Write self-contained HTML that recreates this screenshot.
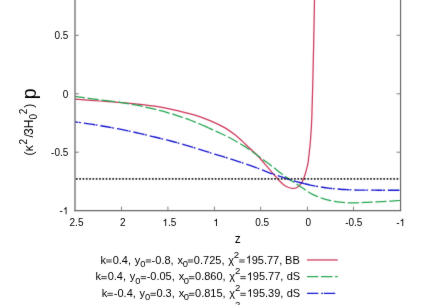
<!DOCTYPE html>
<html>
<head>
<meta charset="utf-8">
<title>plot</title>
<style>
html,body{margin:0;padding:0;background:#fff;}
body{width:436px;height:305px;overflow:hidden;}
svg{display:block;}
text{font-family:"Liberation Sans",sans-serif;fill:#000;}
.tk{font-size:10px;}
.lg{font-size:11px;}
.eq{stroke:#222;stroke-width:0.9;fill:none;}
</style>
</head>
<body>
<svg width="436" height="305" viewBox="0 0 436 305">
<rect x="0" y="0" width="436" height="305" fill="#ffffff"/>
<defs>
<filter id="bl" x="-5%" y="-5%" width="110%" height="110%" color-interpolation-filters="sRGB"><feConvolveMatrix order="3" kernelMatrix="0.015 0.07 0.015 0.07 0.66 0.07 0.015 0.07 0.015" divisor="1" edgeMode="duplicate" preserveAlpha="false"/></filter>
<filter id="bt" x="-5%" y="-5%" width="110%" height="110%" color-interpolation-filters="sRGB"><feConvolveMatrix order="3" kernelMatrix="0.01 0.04 0.01 0.04 0.8 0.04 0.01 0.04 0.01" divisor="1" edgeMode="duplicate" preserveAlpha="false"/></filter>
<path id="one" d="M763 0H583V1147Q518 1085 412.5 1023Q307 961 223 930V1104Q374 1175 487 1276Q600 1377 647 1472H763Z"/>
<clipPath id="pc"><rect x="75" y="-10" width="325.5" height="220.5"/></clipPath>
</defs>

<g filter="url(#bl)">
<!-- curves -->
<g clip-path="url(#pc)" fill="none">
<path d="M75.00 99.20 C79.17 99.50 91.67 100.40 100.00 101.00 C108.33 101.60 115.83 101.93 125.00 102.80 C134.17 103.67 145.83 104.78 155.00 106.20 C164.17 107.62 173.33 109.80 180.00 111.30 C186.67 112.80 190.00 113.63 195.00 115.20 C200.00 116.77 205.00 118.58 210.00 120.70 C215.00 122.82 220.83 125.55 225.00 127.90 C229.17 130.25 232.17 132.63 235.00 134.80 C237.83 136.97 239.63 138.73 242.00 140.90 C244.37 143.07 246.47 145.20 249.20 147.80 C251.93 150.40 255.35 153.28 258.40 156.50 C261.45 159.72 265.23 164.47 267.50 167.10 C269.77 169.73 270.75 170.85 272.00 172.30 C273.25 173.75 273.73 174.34 275.00 175.80 C276.27 177.26 278.07 179.48 279.60 181.05 C281.13 182.62 282.67 184.12 284.20 185.20 C285.73 186.27 287.27 186.97 288.80 187.50 C290.33 188.03 291.98 188.40 293.35 188.40 C294.72 188.40 295.93 188.03 297.00 187.50 C298.07 186.97 298.95 186.12 299.80 185.20 C300.65 184.28 301.42 183.22 302.10 182.00 C302.78 180.78 303.37 179.23 303.90 177.85 C304.43 176.47 304.84 175.22 305.30 173.70 C305.76 172.17 306.27 170.15 306.65 168.70 C307.03 167.25 307.31 166.45 307.60 165.00 C307.89 163.55 307.90 164.33 308.40 160.00 C308.90 155.67 310.03 146.00 310.60 139.00 C311.17 132.00 311.43 127.50 311.80 118.00 C312.17 108.50 312.48 94.67 312.80 82.00 C313.12 69.33 313.42 55.67 313.70 42.00 C313.98 28.33 314.35 8.00 314.50 0.00 C314.65 -8.00 314.58 -5.00 314.60 -6.00" stroke="#cc3558" stroke-width="1.25"/>
<path d="M400.40 200.50 C399.40 200.56 396.40 200.74 394.40 200.86 C392.40 200.97 390.40 201.09 388.40 201.20 C386.40 201.31 384.40 201.42 382.40 201.52 C380.40 201.63 378.40 201.73 376.40 201.83 C374.40 201.93 372.40 202.03 370.40 202.13 C368.40 202.22 366.40 202.32 364.40 202.41 C362.40 202.50 360.40 202.59 358.40 202.68 C356.40 202.76 354.40 202.90 352.40 202.90 C350.40 202.90 348.40 202.80 346.40 202.68 C344.40 202.57 342.40 202.42 340.40 202.19 C338.40 201.96 336.40 201.65 334.40 201.31 C332.40 200.98 330.40 200.64 328.40 200.15 C326.40 199.67 324.40 199.06 322.40 198.38 C320.40 197.71 318.40 196.95 316.40 196.08 C314.40 195.22 312.40 194.32 310.40 193.18 C308.40 192.03 306.40 190.55 304.40 189.22 C302.40 187.90 300.40 186.55 298.40 185.25 C296.40 183.94 294.40 182.69 292.40 181.37 C290.40 180.06 288.40 178.79 286.40 177.37 C284.40 175.94 282.40 174.40 280.40 172.84 C278.40 171.29 276.40 169.59 274.40 168.04 C272.40 166.49 270.40 165.06 268.40 163.57 C266.40 162.08 264.40 160.59 262.40 159.10 C260.40 157.61 258.40 156.13 256.40 154.65 C254.40 153.17 252.40 151.60 250.40 150.22 C248.40 148.84 246.40 147.63 244.40 146.37 C242.40 145.11 240.40 143.89 238.40 142.69 C236.40 141.49 234.40 140.27 232.40 139.18 C230.40 138.10 228.40 137.17 226.40 136.18 C224.40 135.20 222.40 134.24 220.40 133.29 C218.40 132.34 216.37 131.40 214.40 130.50 C212.43 129.59 209.57 128.31 208.60 127.87" stroke="#24a650" stroke-width="1.25" stroke-dasharray="11.15 2.72"/>
<path d="M208.60 127.87 C207.60 127.42 204.60 126.07 202.60 125.20 C200.60 124.33 198.60 123.46 196.60 122.64 C194.60 121.83 192.60 121.05 190.60 120.28 C188.60 119.52 186.60 118.77 184.60 118.07 C182.60 117.36 180.60 116.70 178.60 116.05 C176.60 115.39 174.60 114.77 172.60 114.16 C170.60 113.55 168.60 112.95 166.60 112.38 C164.60 111.80 162.60 111.25 160.60 110.72 C158.60 110.19 156.60 109.69 154.60 109.20 C152.60 108.71 150.60 108.25 148.60 107.78 C146.60 107.32 144.60 106.87 142.60 106.44 C140.60 106.00 138.60 105.58 136.60 105.18 C134.60 104.78 132.60 104.40 130.60 104.04 C128.60 103.69 126.60 103.35 124.60 103.04 C122.60 102.73 120.60 102.45 118.60 102.19 C116.60 101.92 113.63 101.57 112.60 101.44 C111.57 101.31 112.43 101.42 112.40 101.42" stroke="#24a650" stroke-width="1.25" stroke-dasharray="11.15 2.72"/>
<path d="M112.40 101.42 C111.40 101.30 108.40 100.95 106.40 100.70 C104.40 100.46 102.40 100.21 100.40 99.95 C98.40 99.69 96.40 99.42 94.40 99.14 C92.40 98.87 90.40 98.59 88.40 98.31 C86.40 98.03 84.40 97.75 82.40 97.47 C80.40 97.18 77.63 96.78 76.40 96.60 C75.17 96.43 75.23 96.43 75.00 96.40" stroke="#24a650" stroke-width="1.25" stroke-dasharray="11.15 2.72"/>
<path d="M400.40 190.20 C399.40 190.20 396.40 190.20 394.40 190.20 C392.40 190.20 390.40 190.20 388.40 190.20 C386.40 190.20 384.40 190.20 382.40 190.20 C380.40 190.20 378.40 190.20 376.40 190.20 C374.40 190.19 372.40 190.18 370.40 190.18 C368.40 190.17 366.40 190.15 364.40 190.14 C362.40 190.12 360.40 190.12 358.40 190.08 C356.40 190.03 354.40 189.96 352.40 189.88 C350.40 189.79 348.40 189.69 346.40 189.57 C344.40 189.46 342.40 189.36 340.40 189.22 C338.40 189.07 336.40 188.91 334.40 188.73 C332.40 188.55 330.40 188.36 328.40 188.12 C326.40 187.88 324.40 187.59 322.40 187.28 C320.40 186.97 318.40 186.62 316.40 186.25 C314.40 185.89 312.35 185.48 310.40 185.06 C308.45 184.64 305.65 183.96 304.70 183.73" stroke="#1414ce" stroke-width="1.35" stroke-dasharray="11.3 3.0 1.8 0.68" stroke-dashoffset="-1.2"/>
<path d="M304.70 183.73 C303.70 183.49 300.70 182.78 298.70 182.26 C296.70 181.73 294.70 181.21 292.70 180.61 C290.70 180.01 288.70 179.30 286.70 178.64 C284.70 177.98 282.70 177.31 280.70 176.64 C278.70 175.97 276.70 175.32 274.70 174.64 C272.70 173.95 270.70 173.26 268.70 172.53 C266.70 171.79 264.70 171.00 262.70 170.23 C260.70 169.45 258.70 168.64 256.70 167.88 C254.70 167.13 252.70 166.40 250.70 165.68 C248.70 164.97 246.70 164.28 244.70 163.59 C242.70 162.91 240.70 162.23 238.70 161.57 C236.70 160.91 234.70 160.26 232.70 159.62 C230.70 158.99 228.70 158.37 226.70 157.76 C224.70 157.14 222.70 156.55 220.70 155.94 C218.70 155.33 216.70 154.73 214.70 154.11 C212.70 153.49 210.70 152.85 208.70 152.23 C206.70 151.60 204.70 150.96 202.70 150.34 C200.70 149.71 198.70 149.10 196.70 148.48 C194.70 147.87 192.70 147.24 190.70 146.64 C188.70 146.04 186.70 145.44 184.70 144.86 C182.70 144.28 180.70 143.71 178.70 143.16 C176.70 142.60 174.70 142.05 172.70 141.51 C170.70 140.98 168.70 140.46 166.70 139.96 C164.70 139.45 162.70 138.97 160.70 138.48 C158.70 137.99 156.70 137.51 154.70 137.03 C152.70 136.54 150.70 136.04 148.70 135.56 C146.70 135.07 144.70 134.58 142.70 134.12 C140.70 133.65 138.70 133.21 136.70 132.76 C134.70 132.32 132.70 131.87 130.70 131.44 C128.70 131.01 126.70 130.58 124.70 130.16 C122.70 129.75 120.70 129.34 118.70 128.95 C116.70 128.56 114.70 128.18 112.70 127.82 C110.70 127.45 108.70 127.10 106.70 126.75 C104.70 126.40 102.70 126.06 100.70 125.73 C98.70 125.39 96.70 125.06 94.70 124.74 C92.70 124.43 90.70 124.11 88.70 123.81 C86.70 123.51 84.70 123.22 82.70 122.94 C80.70 122.65 77.98 122.29 76.70 122.12 C75.42 121.95 75.28 121.94 75.00 121.90" stroke="#1414ce" stroke-width="1.35" stroke-dasharray="11.3 3.0 1.8 0.68"/>
<path d="M75.95 178.95 H400.5" stroke="#1e1e1e" stroke-width="1.7" stroke-dasharray="1.7 1.605"/>
</g>

<!-- axes -->
<g fill="none" stroke-linecap="square">
<path d="M75 -2 V210.55" stroke="#6a6a6a" stroke-width="1.3"/>
<path d="M75 210.6 H400.5" stroke="#666666" stroke-width="1.25"/>
<path d="M400.55 210.55 V-2" stroke="#5e5e5e" stroke-width="1.1"/>
</g>
<g fill="none" stroke="#606060" stroke-width="0.8">
<path d="M75 35.3 h3.9 M75 93.8 h3.9 M75 152.2 h3.9"/>
<path d="M400.5 35.3 h-3.9 M400.5 93.8 h-3.9 M400.5 152.2 h-3.9"/>
<path d="M121.5 210.5 v-3.8 M167.9 210.5 v-3.8 M214.4 210.5 v-3.8 M260.7 210.5 v-3.8 M307.45 210.5 v-3.8 M353.5 210.5 v-3.8"/>
</g>

<!-- legend samples -->
<g fill="none">
<path d="M307 259.95 H337.7" stroke="#cc3558" stroke-width="1.25"/>
<path d="M307 276.5 H337.7" stroke="#24a650" stroke-width="1.25" stroke-dasharray="11.3 2.75"/>
<path d="M307 293.3 H337.7" stroke="#1414ce" stroke-width="1.35" stroke-dasharray="11.3 2.9 1.8 0.9"/>
</g>
</g>
<g filter="url(#bt)">
<!-- y tick labels -->
<g class="tk" text-anchor="end">
<text x="68.3" y="38.9">0.5</text>
<text x="68.3" y="97.5">0</text>
<text x="68.3" y="156.0">-0.5</text>
<text x="59.45" y="214.3" text-anchor="start">-</text><use href="#one" transform="translate(62.78 214.30) scale(0.00488 -0.00488)"/>
</g>
<!-- x tick labels -->
<g class="tk" text-anchor="middle">
<text x="76.5" y="226">2.5</text>
<text x="122.9" y="226">2</text>
<use href="#one" transform="translate(162.44 226.00) scale(0.00488 -0.00488)"/><text x="168.00" y="226" text-anchor="start">.5</text>
<use href="#one" transform="translate(213.26 226.00) scale(0.00488 -0.00488)"/>
<text x="262.2" y="226">0.5</text>
<text x="308.4" y="226">0</text>
<text x="353.8" y="226">-0.5</text>
<text x="396.15" y="226" text-anchor="start">-</text><use href="#one" transform="translate(399.48 226.00) scale(0.00488 -0.00488)"/>
</g>
<text x="237.7" y="242.6" font-size="12" text-anchor="middle">z</text>

<!-- y axis label -->
<g transform="translate(0 305) rotate(-90)">
<text x="149.61" y="32.50" font-size="12">(</text>
<text x="153.75" y="32.50" font-size="12">κ</text>
<text x="160.55" y="26.70" font-size="10">2</text>
<text x="167.50" y="32.50" font-size="12">/</text>
<text x="170.04" y="32.50" font-size="12">3</text>
<text x="176.82" y="32.50" font-size="12">H</text>
<text x="185.41" y="36.50" font-size="10">0</text>
<text x="190.80" y="26.70" font-size="10">2</text>
<text x="197.23" y="32.50" font-size="12">)</text>
<text x="205.74" y="35.70" font-size="19.7">p</text>
</g>

<!-- legend -->
<g class="lg">
<text x="100.56" y="263.50" font-size="11">k</text>
<path d="M106.15 259.95 H111.75 M106.15 261.95 H111.75" class="eq"/>
<text x="112.67" y="263.50" font-size="11">0.4,</text>
<text x="134.78" y="263.50" font-size="11">y</text>
<text x="140.25" y="266.80" font-size="9.4">0</text>
<path d="M145.70 259.95 H151.05 M145.70 261.95 H151.05" class="eq"/>
<text x="151.62" y="263.50" font-size="11">-0.8,</text>
<text x="177.48" y="263.50" font-size="11">x</text>
<text x="182.65" y="266.80" font-size="9.4">0</text>
<path d="M187.70 259.95 H193.15 M187.70 261.95 H193.15" class="eq"/>
<text x="193.87" y="263.50" font-size="11">0.725,</text>
<text x="228.19" y="263.50" font-size="11">χ</text>
<text x="233.85" y="257.60" font-size="9.6">2</text>
<path d="M239.20 259.95 H244.65 M239.20 261.95 H244.65" class="eq"/>
<use href="#one" transform="translate(245.70 263.50) scale(0.00537 -0.00537)"/>
<text x="251.68" y="263.50" font-size="11">95.77,</text>
<text x="285.10" y="263.50" font-size="11">BB</text>
<text x="95.59" y="280.20" font-size="11">k</text>
<path d="M101.18 276.65 H106.78 M101.18 278.65 H106.78" class="eq"/>
<text x="107.70" y="280.20" font-size="11">0.4,</text>
<text x="129.81" y="280.20" font-size="11">y</text>
<text x="135.28" y="283.50" font-size="9.4">0</text>
<path d="M140.73 276.65 H146.08 M140.73 278.65 H146.08" class="eq"/>
<text x="146.65" y="280.20" font-size="11">-0.05,</text>
<text x="178.63" y="280.20" font-size="11">x</text>
<text x="183.80" y="283.50" font-size="9.4">0</text>
<path d="M188.85 276.65 H194.30 M188.85 278.65 H194.30" class="eq"/>
<text x="195.02" y="280.20" font-size="11">0.860,</text>
<text x="229.34" y="280.20" font-size="11">χ</text>
<text x="235.00" y="274.30" font-size="9.6">2</text>
<path d="M240.35 276.65 H245.80 M240.35 278.65 H245.80" class="eq"/>
<use href="#one" transform="translate(246.85 280.20) scale(0.00537 -0.00537)"/>
<text x="252.83" y="280.20" font-size="11">95.77,</text>
<text x="286.74" y="280.20" font-size="11">dS</text>
<text x="101.71" y="296.85" font-size="11">k</text>
<path d="M107.30 293.30 H112.90 M107.30 295.30 H112.90" class="eq"/>
<text x="113.82" y="296.85" font-size="11">-0.4,</text>
<text x="139.59" y="296.85" font-size="11">y</text>
<text x="145.06" y="300.15" font-size="9.4">0</text>
<path d="M150.51 293.30 H155.86 M150.51 295.30 H155.86" class="eq"/>
<text x="156.43" y="296.85" font-size="11">0.3,</text>
<text x="178.63" y="296.85" font-size="11">x</text>
<text x="183.80" y="300.15" font-size="9.4">0</text>
<path d="M188.85 293.30 H194.30 M188.85 295.30 H194.30" class="eq"/>
<text x="195.02" y="296.85" font-size="11">0.815,</text>
<text x="229.34" y="296.85" font-size="11">χ</text>
<text x="235.00" y="290.95" font-size="9.6">2</text>
<path d="M240.35 293.30 H245.80 M240.35 295.30 H245.80" class="eq"/>
<use href="#one" transform="translate(246.85 296.85) scale(0.00537 -0.00537)"/>
<text x="252.83" y="296.85" font-size="11">95.39,</text>
<text x="286.74" y="296.85" font-size="11">dS</text>
<text x="101.71" y="313.55" font-size="11">k</text>
<path d="M107.30 310.00 H112.90 M107.30 312.00 H112.90" class="eq"/>
<text x="113.82" y="313.55" font-size="11">-0.4,</text>
<text x="139.59" y="313.55" font-size="11">y</text>
<text x="145.06" y="316.85" font-size="9.4">0</text>
<path d="M150.51 310.00 H155.86 M150.51 312.00 H155.86" class="eq"/>
<text x="156.43" y="313.55" font-size="11">0.3,</text>
<text x="178.63" y="313.55" font-size="11">x</text>
<text x="183.80" y="316.85" font-size="9.4">0</text>
<path d="M188.85 310.00 H194.30 M188.85 312.00 H194.30" class="eq"/>
<text x="195.02" y="313.55" font-size="11">0.815,</text>
<text x="229.34" y="313.55" font-size="11">χ</text>
<text x="235.00" y="307.65" font-size="9.6">2</text>
<path d="M240.35 310.00 H245.80 M240.35 312.00 H245.80" class="eq"/>
<use href="#one" transform="translate(246.85 313.55) scale(0.00537 -0.00537)"/>
<text x="252.83" y="313.55" font-size="11">95.39,</text>
<text x="286.74" y="313.55" font-size="11">dS</text>
</g>
</g>
</svg>
</body>
</html>
